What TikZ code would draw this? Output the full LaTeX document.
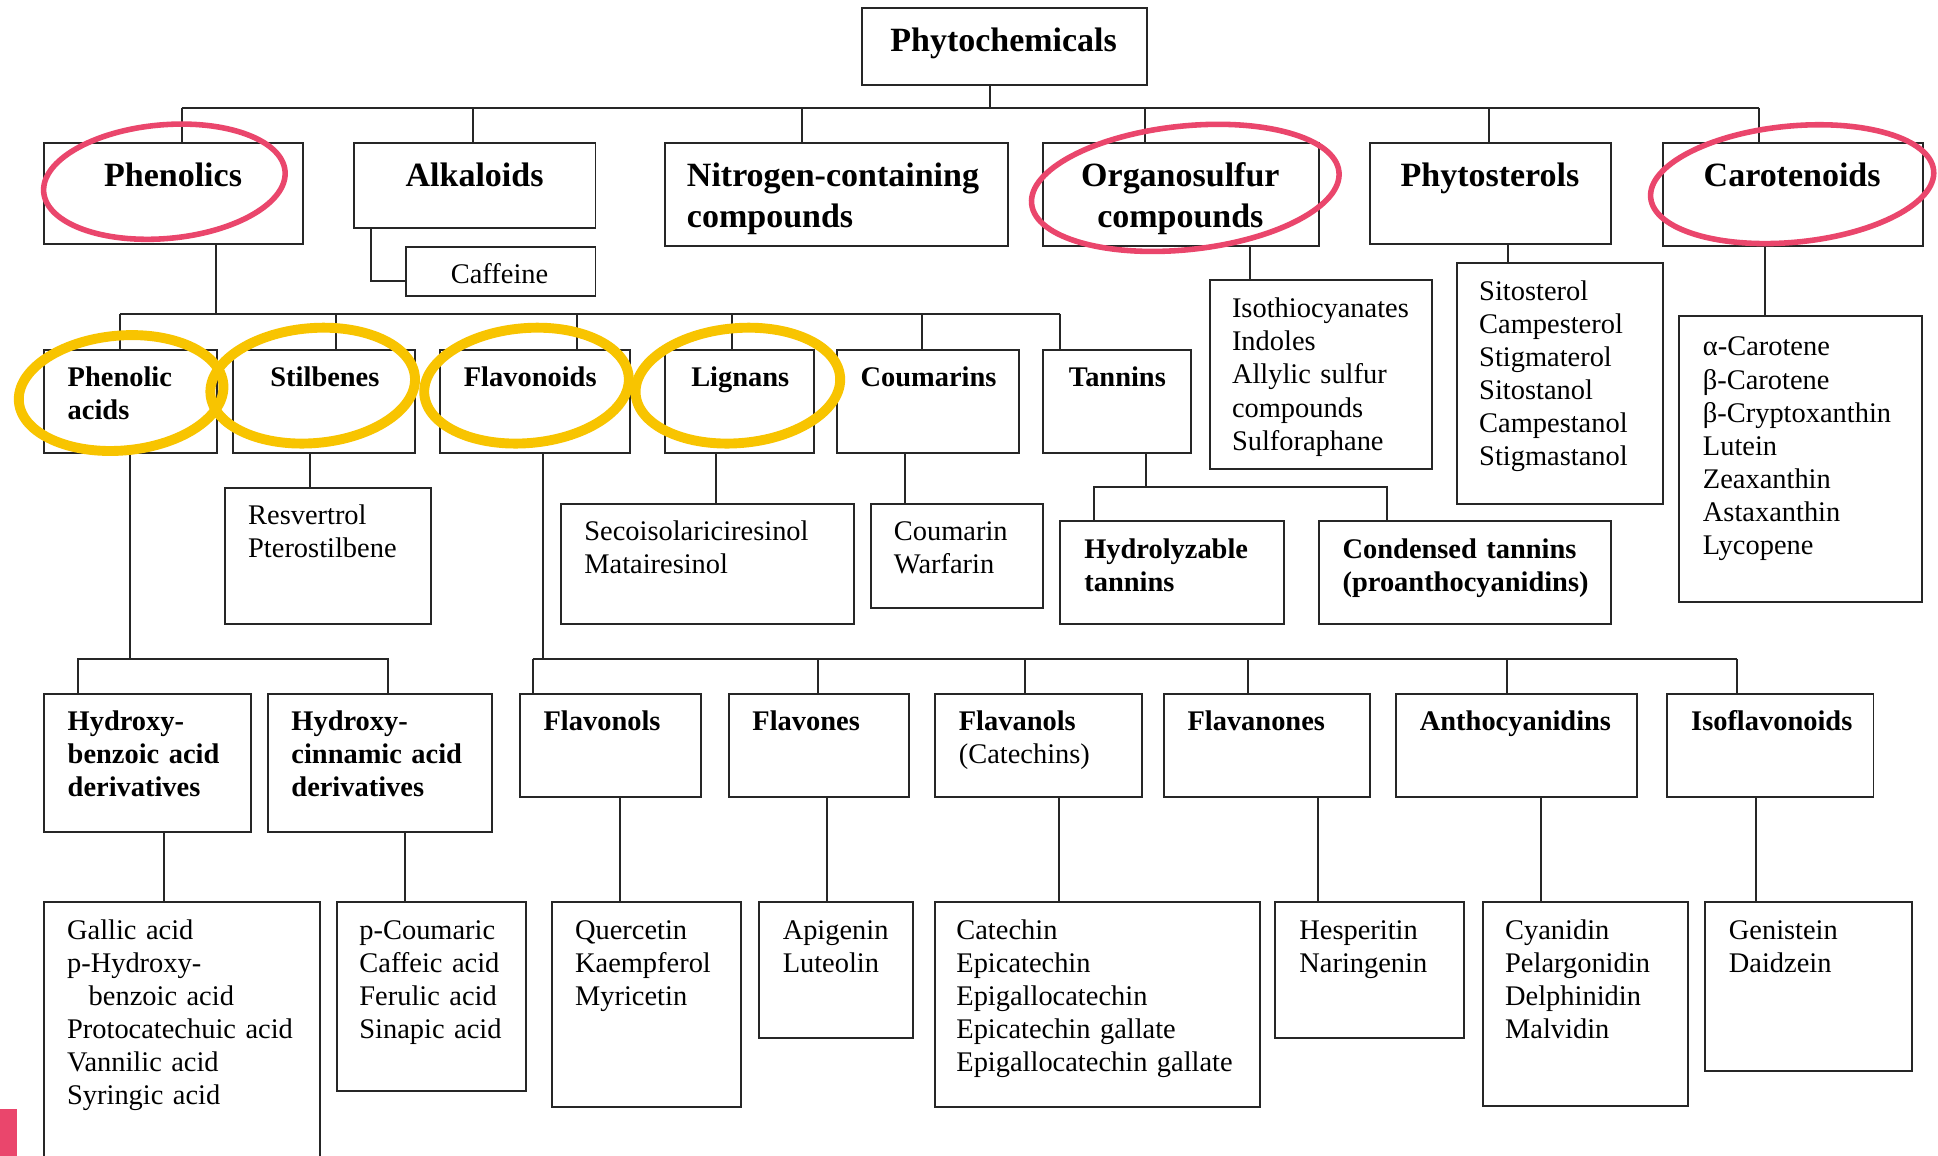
\documentclass[tikz,border=0pt]{standalone}
\usepackage{fontspec}
\setmainfont{Liberation Serif}
\definecolor{ringpink}{RGB}{234,70,108}
\definecolor{ringgold}{RGB}{248,196,0}

\begin{document}
\begin{tikzpicture}[x=1pt, y=-1pt, line width=1.6pt,
    box/.style 2 args={draw=black!85, anchor=north west, inner sep=0pt,
      minimum width=#1pt, minimum height=#2pt},
    big/.style={font=\fontsize{27.5}{33}\selectfont\bfseries, inner sep=0pt, anchor=base},
    head/.style={font=\fontsize{23}{26.8}\selectfont\bfseries, inner sep=0pt,
      anchor=base west, text width=260pt, align=left},
    listtext/.style={font=\fontsize{23}{26.8}\selectfont, inner sep=0pt,
      anchor=base west, text width=260pt, align=left},
    pinkring/.style={draw=ringpink, line width=4.5pt},
    goldring/.style={draw=ringgold, line width=8pt}]
  \path[use as bounding box, fill=white] (0,0) rectangle (1568,935);

  % top level
  \node[box={230}{62}] (phyto) at (697,6) {};
  \node[box={209}{82}] (phen) at (35,115) {};
  \node[box={195}{69}] (alk) at (286,115) {};
  \node[box={153}{40}] (caff) at (328,199) {};
  \node[box={278}{83}] (nitro) at (537,115) {};
  \node[box={223}{83}] (orgs) at (843,115) {};
  \node[box={195}{82}] (physt) at (1108,115) {};
  \node[box={210}{83}] (carot) at (1345,115) {};

  \node[big] (phyto-t) at (812,42) {Phytochemicals};
  \node[big] (phen-t) at (140,151) {Phenolics};
  \node[big] (alk-t) at (384,151) {Alkaloids};
  \node[listtext] (caff-t) at (364,229) {Caffeine};
  \node[big, anchor=base west, text width=270pt, align=left] (nitro-t) at (555,151) {Nitrogen-containing\\compounds};
  \node[big, text width=220pt, align=center] (orgs-t) at (955,151) {Organosulfur\\compounds};
  \node[big] (physt-t) at (1205.5,151) {Phytosterols};
  \node[big] (carot-t) at (1450,151) {Carotenoids};

  % second level
  \node[box={140}{84}] (pacid) at (35,282) {};
  \node[box={147}{84}] (stil) at (188,282) {};
  \node[box={154}{84}] (flavd) at (355,282) {};
  \node[box={121}{84}] (lign) at (537,282) {};
  \node[box={148}{84}] (coum) at (676,282) {};
  \node[box={120}{84}] (tann) at (843,282) {};
  \node[box={180}{153}] (isoth) at (978,226) {};
  \node[box={167}{195}] (sitos) at (1178,212) {};
  \node[box={196}{231}] (carlist) at (1358,255) {};
  \node[box={167}{110}] (resv) at (181,394) {};
  \node[box={237}{97}] (seco) at (453,407) {};
  \node[box={139}{84}] (cmrn) at (704,407) {};
  \node[box={181}{83}] (hydro) at (857,421) {};
  \node[box={237}{83}] (cond) at (1066,421) {};

  \node[head] (pacid-t) at (54,313) {Phenolic\\acids};
  \node[head] (stil-t) at (218,313) {Stilbenes};
  \node[head] (flavd-t) at (374.5,313) {Flavonoids};
  \node[head] (lign-t) at (558.5,313) {Lignans};
  \node[head] (coum-t) at (695.5,313) {Coumarins};
  \node[head] (tann-t) at (864,313) {Tannins};
  \node[listtext] (isoth-t) at (996,257) {Isothiocyanates\\Indoles\\Allylic sulfur\\compounds\\Sulforaphane};
  \node[listtext] (sitos-t) at (1196,243) {Sitosterol\\Campesterol\\Stigmaterol\\Sitostanol\\Campestanol\\Stigmastanol};
  \node[listtext] (carlist-t) at (1377,288) {α-Carotene\\β-Carotene\\β-Cryptoxanthin\\Lutein\\Zeaxanthin\\Astaxanthin\\Lycopene};
  \node[listtext] (resv-t) at (200,424.5) {Resvertrol\\Pterostilbene};
  \node[listtext] (seco-t) at (472,437.5) {Secoisolariciresinol\\Matairesinol};
  \node[listtext] (cmrn-t) at (722.5,437.5) {Coumarin\\Warfarin};
  \node[head] (hydro-t) at (876.5,451.5) {Hydrolyzable\\tannins};
  \node[head] (cond-t) at (1085.5,451.5) {Condensed tannins\\(proanthocyanidins)};

  % third level
  \node[box={167}{111}] (hba) at (35,561) {};
  \node[box={181}{111}] (hca) at (216,561) {};
  \node[box={146}{83}] (fnol) at (420,561) {};
  \node[box={146}{83}] (fone) at (589,561) {};
  \node[box={167}{83}] (fanol) at (756,561) {};
  \node[box={167}{83}] (fanone) at (941,561) {};
  \node[box={195}{83}] (anth) at (1129,561) {};
  \node[box={167}{83}] (isofl) at (1348,561) {};

  \node[head] (hba-t) at (54,591) {Hydroxy-\\benzoic acid\\derivatives};
  \node[head] (hca-t) at (235,591) {Hydroxy-\\cinnamic acid\\derivatives};
  \node[head] (fnol-t) at (439,591) {Flavonols};
  \node[head] (fone-t) at (608,591) {Flavones};
  \node[head] (fanol-t) at (775,591) {Flavanols\\\mdseries(Catechins)};
  \node[head] (fanone-t) at (960,591) {Flavanones};
  \node[head] (anth-t) at (1148,591) {Anthocyanidins};
  \node[head] (isofl-t) at (1367.5,591) {Isoflavonoids};

  % fourth level
  \node[box={223}{206}] (gallic) at (35,729) {};
  \node[box={153}{153}] (pcou) at (272,729) {};
  \node[box={153}{166}] (querc) at (446,729) {};
  \node[box={125}{110}] (apig) at (613,729) {};
  \node[box={263}{166}] (catec) at (756,729) {};
  \node[box={153}{110}] (hesp) at (1031,729) {};
  \node[box={166}{165}] (cyan) at (1199,729) {};
  \node[box={167}{137}] (genis) at (1379,729) {};

  \node[listtext] (gallic-t) at (53.5,760) {Gallic acid\\p-Hydroxy-\\\hspace*{17.5pt}benzoic acid\\Protocatechuic acid\\Vannilic acid\\Syringic acid};
  \node[listtext] (pcou-t) at (290,760) {p-Coumaric\\Caffeic acid\\Ferulic acid\\Sinapic acid};
  \node[listtext] (querc-t) at (464.5,760) {Quercetin\\Kaempferol\\Myricetin};
  \node[listtext] (apig-t) at (632.5,760) {Apigenin\\Luteolin};
  \node[listtext] (catec-t) at (773,760) {Catechin\\Epicatechin\\Epigallocatechin\\Epicatechin gallate\\Epigallocatechin gallate};
  \node[listtext] (hesp-t) at (1050.5,760) {Hesperitin\\Naringenin};
  \node[listtext] (cyan-t) at (1217,760) {Cyanidin\\Pelargonidin\\Delphinidin\\Malvidin};
  \node[listtext] (genis-t) at (1398,760) {Genistein\\Daidzein};

  % connectors
  \begin{scope}[draw=black!85]
    \coordinate (top) at (801,87);
    \draw (top |- phyto.south) -- (top);
    \foreach \n/\x in {phen/147, alk/383, nitro/649, orgs/926, physt/1205, carot/1423}
      \draw (\x,87) coordinate (t\n) -- (t\n |- \n.north);
    \draw (tphen) -- (tcarot);

    \coordinate (scaff) at (300,227);
    \draw (scaff |- alk.south) |- (caff.west |- scaff);

    \coordinate (tphenolics) at (175,254);
    \draw (tphenolics |- phen.south) -- (tphenolics);
    \foreach \n/\x in {pacid/97, stil/272, flavd/467, lign/592, coum/746, tann/858}
      \draw (\x,254) coordinate (t\n) -- (t\n |- \n.north);
    \draw (tpacid) -- (ttann);

    \coordinate (ttannins) at (927,394);
    \coordinate (thydro) at (885,394);
    \coordinate (tcond) at (1122,394);
    \draw (ttannins |- tann.south) -- (ttannins);
    \draw (thydro |- hydro.north) -- (thydro) -- (tcond) -- (tcond |- cond.north);

    \coordinate (tacids) at (105,533);
    \draw (tacids |- pacid.south) -- (tacids);
    \coordinate (thba) at (63,533);
    \coordinate (thca) at (314,533);
    \draw (thba |- hba.north) -- (thba) -- (thca) -- (thca |- hca.north);

    \coordinate (tflav) at (439,533);
    \draw (tflav |- flavd.south) -- (tflav);
    \foreach \n/\x in {fnol/431, fone/662, fanol/829, fanone/1010, anth/1219, isofl/1405}
      \draw (\x,533) coordinate (t\n) -- (t\n |- \n.north);
    \draw (tfnol) -- (tisofl);

    \foreach \a/\b/\x in {stil/resv/251, lign/seco/579, coum/cmrn/732, orgs/isoth/1011,
        physt/sitos/1220, carot/carlist/1428, hba/gallic/133, hca/pcou/328,
        fnol/querc/502, fone/apig/669, fanol/catec/857, fanone/hesp/1066,
        anth/cyan/1247, isofl/genis/1421} {
      \coordinate (s\b) at (\x,0);
      \draw (s\b |- \a.south) -- (s\b |- \b.north);
    }
  \end{scope}

  % highlight rings
  \draw[pinkring, rotate around={5:(133,147)}] (133,147) ellipse [x radius=98pt, y radius=46pt];
  \draw[pinkring, rotate around={6:(959,152)}] (959,152) ellipse [x radius=125pt, y radius=50pt];
  \draw[pinkring, rotate around={5.5:(1450,149)}] (1450,149) ellipse [x radius=115pt, y radius=47pt];
  \foreach \c in {(98,318), (253,312), (426,312), (597,312)}
    \draw[goldring, rotate around={5:\c}] \c ellipse [x radius=83pt, y radius=46.5pt];

  \fill[ringpink] (0,897) rectangle (14,935);
\end{tikzpicture}
\end{document}
